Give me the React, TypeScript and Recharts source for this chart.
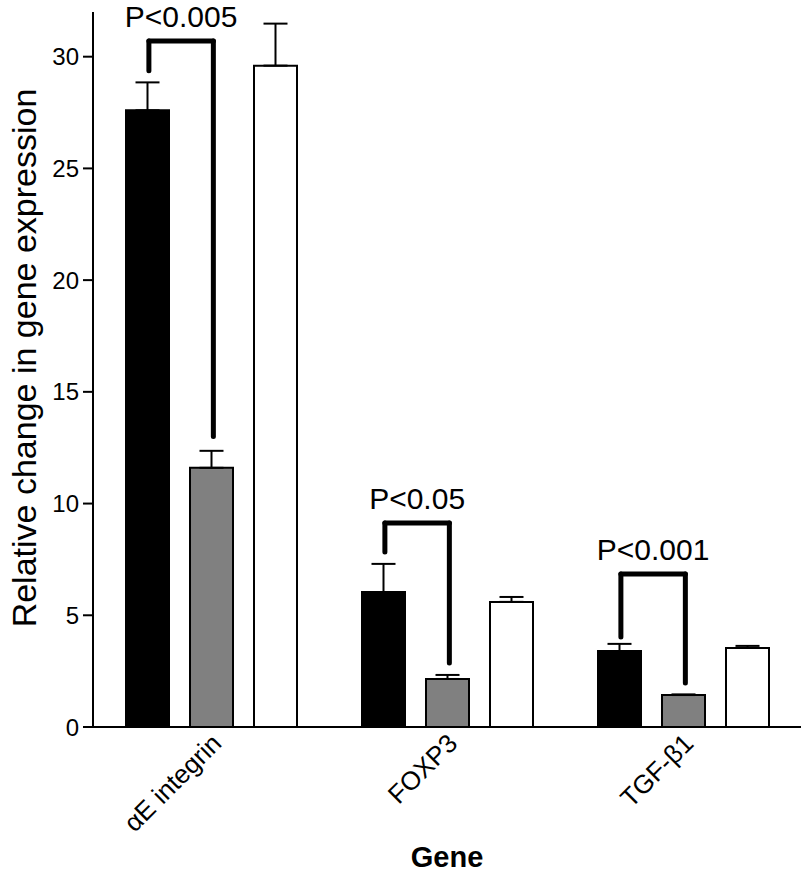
import React from 'react';
import { BarChart, Bar, XAxis, YAxis, ErrorBar, ReferenceLine } from 'recharts';

const genes = ['αE integrin', 'FOXP3', 'TGF-β1'];
const genePos = [0.5, 1.5, 2.5];

// three treatment groups (black, grey, white bars)
const blackValues = [27.6, 6.04, 3.4];
const blackErrors = [1.25, 1.26, 0.32];
const greyValues = [11.6, 2.15, 1.43];
const greyErrors = [0.76, 0.18, 0.03];
const whiteValues = [29.6, 5.6, 3.54];
const whiteErrors = [1.88, 0.22, 0.09];

const yTicks = [0, 5, 10, 15, 20, 25, 30];

// significance brackets between black and grey bars
const sigLabels = ['P<0.005', 'P<0.05', 'P<0.001'];
const sigLeftEnd = [29.37, 7.83, 4.03];
const sigTop = [30.7, 9.13, 6.85];
const sigRightEnd = [13.0, 2.86, 1.97];

const data = genes.map((gene, i) => ({
  gene,
  pos: genePos[i],
  black: blackValues[i],
  grey: greyValues[i],
  white: whiteValues[i],
  blackErr: [0, blackErrors[i]],
  greyErr: [0, greyErrors[i]],
  whiteErr: [0, whiteErrors[i]],
}));

const FONT = '"Liberation Sans", Arial, sans-serif';
const BAR_SIZE = 43;
const BAR_GAP = 21;
const BAND = 236;
const barShift = (BAR_SIZE + BAR_GAP) / BAND;

const GeneTick = (props: any) => {
  const { x, y, payload } = props;
  const idx = genePos.indexOf(payload.value);
  return (
    <g transform={`translate(${x + 12},${y + 10})`}>
      <text textAnchor="end" transform="rotate(-45)" fontSize={26} fill="#000" fontFamily={FONT}>
        {genes[idx]}
      </text>
    </g>
  );
};

const bracketStyle = { stroke: '#000', strokeWidth: 5, strokeLinecap: 'round' as const, ifOverflow: 'visible' as const };

export default function App() {
  return (
    <div style={{ position: 'absolute', left: 0, top: 0, background: '#fff' }}>
      <BarChart
        width={809}
        height={877}
        data={data}
        margin={{ top: 12, right: 8, left: 0, bottom: 0 }}
        barSize={BAR_SIZE}
        barGap={BAR_GAP}
        style={{ fontFamily: FONT }}
      >
        <XAxis
          dataKey="pos"
          type="number"
          domain={[0, 3]}
          ticks={genePos}
          interval={0}
          allowDataOverflow
          height={150}
          tickLine={false}
          axisLine={{ stroke: '#000', strokeWidth: 2 }}
          tick={<GeneTick />}
          label={({ viewBox }: any) => (
            <text
              x={viewBox.x + viewBox.width / 2}
              y={867}
              textAnchor="middle"
              fontSize={29}
              fontWeight="bold"
              fill="#000"
              fontFamily={FONT}
            >
              Gene
            </text>
          )}
        />
        <YAxis
          width={93}
          domain={[0, 32]}
          ticks={yTicks}
          interval={0}
          tickSize={10}
          tickMargin={4}
          axisLine={{ stroke: '#000', strokeWidth: 2 }}
          tickLine={{ stroke: '#000', strokeWidth: 2 }}
          tick={{ fill: '#000', fontSize: 24, fontFamily: FONT }}
          label={() => {
            const cx = 36;
            const cy = 358;
            return (
              <text
                x={cx}
                y={cy}
                transform={`rotate(-90, ${cx}, ${cy})`}
                textAnchor="middle"
                fontSize={34}
                fill="#000"
                fontFamily={FONT}
              >
                Relative change in gene expression
              </text>
            );
          }}
        />
        <Bar dataKey="black" fill="#000" stroke="#000" strokeWidth={2} isAnimationActive={false}>
          <ErrorBar dataKey="blackErr" width={12} stroke="#000" strokeWidth={2} direction="y" />
        </Bar>
        <Bar dataKey="grey" fill="#808080" stroke="#000" strokeWidth={2} isAnimationActive={false}>
          <ErrorBar dataKey="greyErr" width={12} stroke="#000" strokeWidth={2} direction="y" />
        </Bar>
        <Bar dataKey="white" fill="#fff" stroke="#000" strokeWidth={2} isAnimationActive={false}>
          <ErrorBar dataKey="whiteErr" width={12} stroke="#000" strokeWidth={2} direction="y" />
        </Bar>
        {genes.map((g, i) => {
          const left = genePos[i] - barShift + 0.008;
          const right = genePos[i] + 0.01;
          return (
            <React.Fragment key={g}>
              <ReferenceLine
                segment={[{ x: left, y: sigLeftEnd[i] }, { x: left, y: sigTop[i] }]}
                {...bracketStyle}
              />
              <ReferenceLine
                segment={[{ x: left, y: sigTop[i] }, { x: right, y: sigTop[i] }]}
                {...bracketStyle}
                label={{
                  value: sigLabels[i],
                  position: 'top',
                  offset: 14,
                  fontSize: 30,
                  fill: '#000',
                  fontFamily: FONT,
                }}
              />
              <ReferenceLine
                segment={[{ x: right, y: sigTop[i] }, { x: right, y: sigRightEnd[i] }]}
                {...bracketStyle}
              />
            </React.Fragment>
          );
        })}
      </BarChart>
    </div>
  );
}
